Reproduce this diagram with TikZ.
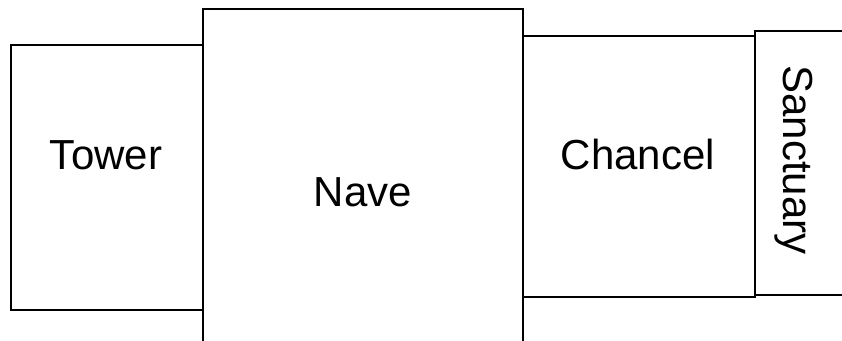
\documentclass[tikz,border=0pt]{standalone}
\usepackage{fontspec}
\setmainfont{Liberation Sans}
\tikzset{wall/.style={draw,line width=1.4pt},
  lbl/.style={anchor=base,inner sep=0pt,font=\fontsize{42}{50}\selectfont}}

\begin{document}
\begin{tikzpicture}[x=1pt,y=1pt]
\clip (0,0) rectangle (842,340);
\draw[wall] (11,30) rectangle (203,295);
\draw[wall] (203,-10) rectangle (523,331);
\draw[wall] (523,43) rectangle (755,304);
\draw[wall] (755,45) rectangle (860,309);
\node[lbl] (tower) at (106,170) {Tower};
\node[lbl] (nave) at (363,133) {Nave};
\node[lbl] (chancel) at (638,170) {Chancel};
\node[lbl,rotate=-90] (sanctuary) at (783,180) {Sanctuary};
\end{tikzpicture}
\end{document}
